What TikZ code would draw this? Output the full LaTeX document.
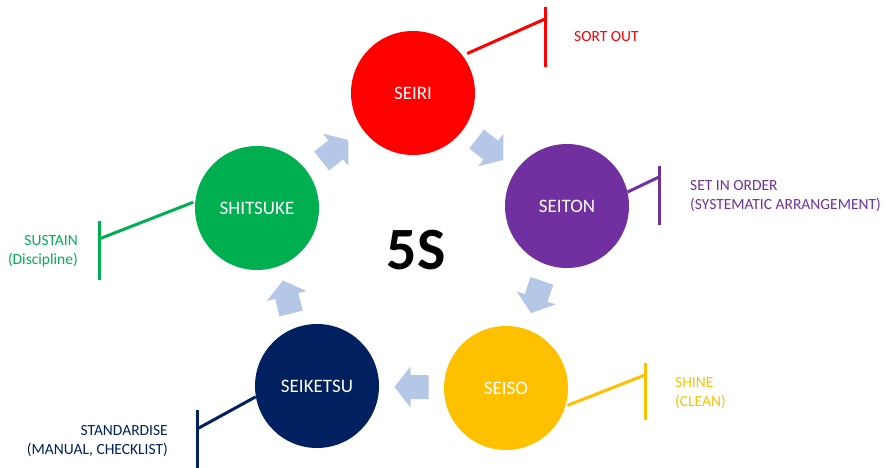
\documentclass[tikz,border=0pt]{standalone}
\usepackage{fontspec}
\setmainfont{Carlito}
\usetikzlibrary{calc}

\definecolor{sRed}{HTML}{FF0000}
\definecolor{sPurple}{HTML}{7030A0}
\definecolor{sGold}{HTML}{FFC000}
\definecolor{sNavy}{HTML}{002060}
\definecolor{sGreen}{HTML}{00B050}
\definecolor{flowBlue}{HTML}{B4C7E7}

\begin{document}
\begin{tikzpicture}[x=1pt,y=-1pt,
  stage/.style={circle, minimum size=124pt, inner sep=0pt, text=white,
    font=\fontsize{19}{22}\selectfont},
  tag/.style={line width=3pt},
  note/.style={font=\fontsize{15.5}{19}\selectfont, inner sep=0pt},
  flowarrow/.pic={
    \fill[flowBlue] (-17,-12) -- (1,-12) -- (1,-20.5) -- (17,0)
      -- (1,20.5) -- (1,12) -- (-17,12) -- cycle;
  }
]
\useasboundingbox (0,0) rectangle (895,468);

% the five stages
\node[stage, fill=sRed]    (seiri)    at (413,93)  {SEIRI};
\node[stage, fill=sPurple] (seiton)   at (567,206) {SEITON};
\node[stage, fill=sGold]   (seiso)    at (506,388) {SEISO};
\node[stage, fill=sNavy]   (seiketsu) at (317,386) {SEIKETSU};
\node[stage, fill=sGreen]  (shitsuke) at (257,208) {SHITSUKE};

% centre title
\node[font=\bfseries\fontsize{60}{64}\selectfont] (five) at (416,250) {5S};

% cycle arrows between neighbouring stages
\coordinate (m1) at ($(shitsuke)!0.5!(seiri)$);
\coordinate (m2) at ($(seiri)!0.5!(seiton)$);
\coordinate (m3) at ($(seiton)!0.5!(seiso)$);
\coordinate (m4) at ($(seiso)!0.5!(seiketsu)$);
\coordinate (m5) at ($(seiketsu)!0.5!(shitsuke)$);
\pic[rotate=38]     at (m1) {flowarrow};
\pic[rotate=-38]    at (m2) {flowarrow};
\pic[rotate=-108.5] at (m3) {flowarrow};
\pic[rotate=180]    at (m4) {flowarrow};
\pic[rotate=104]    at (m5) {flowarrow};

% callout bars
\coordinate (b1t) at (545,7);   \coordinate (b1b) at (545,67);  \coordinate (b1m) at (545,19);
\coordinate (b2t) at (659,166); \coordinate (b2b) at (659,225); \coordinate (b2m) at (659,177);
\coordinate (b3t) at (645,363); \coordinate (b3b) at (645,420); \coordinate (b3m) at (645,375);
\coordinate (b4t) at (197,410); \coordinate (b4b) at (197,468); \coordinate (b4m) at (197,429);
\coordinate (b5t) at (99,221);  \coordinate (b5b) at (99,280);  \coordinate (b5m) at (99,239);

\draw[tag, sRed]    (b1t) -- (b1b);  \draw[tag, sRed, shorten <=5pt]    (seiri.37)     -- (b1m);
\draw[tag, sPurple] (b2t) -- (b2b);  \draw[tag, sPurple]                (seiton.13)    -- (b2m);
\draw[tag, sGold]   (b3t) -- (b3b);  \draw[tag, sGold, shorten <=2pt]   (seiso.-17)    -- (b3m);
\draw[tag, sNavy]   (b4t) -- (b4b);  \draw[tag, sNavy]                  (seiketsu.190) -- (b4m);
\draw[tag, sGreen]  (b5t) -- (b5b);  \draw[tag, sGreen, shorten <=2pt]  (shitsuke.174) -- (b5m);

% callout texts
\node[note, text=sRed, anchor=west] (n1) at (574,37) {SORT OUT};
\node[note, text=sPurple, anchor=west, align=left] (n2) at (690,196)
  {SET IN ORDER\\(SYSTEMATIC ARRANGEMENT)};
\node[note, text=sGold, anchor=west, align=left] (n3) at (675,393) {SHINE\\(CLEAN)};
\node[note, text=sNavy, anchor=east, align=right] (n4) at (168,441)
  {STANDARDISE\\(MANUAL, CHECKLIST)};
\node[note, text=sGreen, anchor=east, align=right] (n5) at (78,251) {SUSTAIN\\(Discipline)};
\end{tikzpicture}
\end{document}
